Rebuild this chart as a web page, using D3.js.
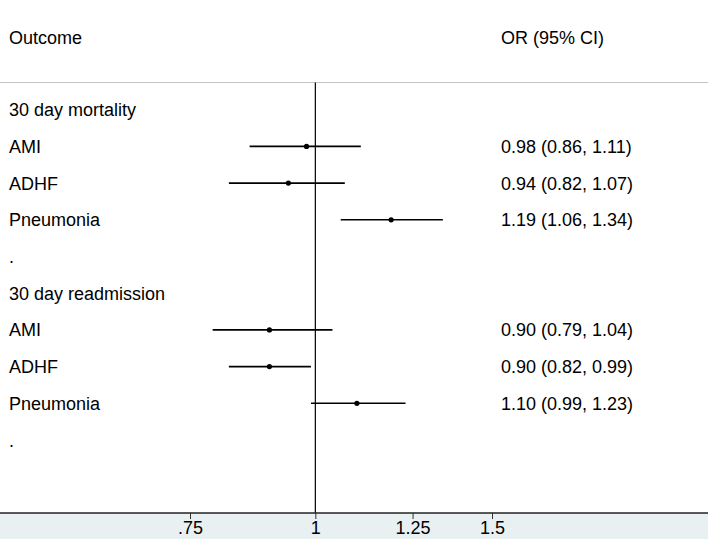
<!DOCTYPE html>
<html>
<head>
<meta charset="utf-8">
<script src="https://cdn.jsdelivr.net/npm/d3@7"></script>
<style>
  html, body { margin: 0; padding: 0; background: #fff; }
  svg { display: block; }
  text { font-family: "Liberation Sans", Arial, sans-serif; font-size: 18px; fill: #000; }
</style>
</head>
<body>
<script>
const labels = ["30 day mortality", "AMI", "ADHF", "Pneumonia", ".", "30 day readmission", "AMI", "ADHF", "Pneumonia", "."];
const estimates = [null, 0.98, 0.94, 1.19, null, null, 0.90, 0.90, 1.10, null];
const lower = [null, 0.86, 0.82, 1.06, null, null, 0.79, 0.82, 0.99, null];
const upper = [null, 1.11, 1.07, 1.34, null, null, 1.04, 0.99, 1.23, null];
const tickValues = [0.75, 1, 1.25, 1.5];
const tickLabels = [".75", "1", "1.25", "1.5"];

const W = 708, H = 539;
const svg = d3.select("body").append("svg").attr("width", W).attr("height", H);

const x = d3.scaleLog().domain([0.75, 1.5]).range([190, 492]);
const y = d3.scalePoint().domain(d3.range(labels.length)).range([109.7, 440]);
const axisY = 513;

// bottom background
svg.append("rect").attr("x", 0).attr("y", axisY).attr("width", W).attr("height", H - axisY).attr("fill", "#e9f0f2");

// header
svg.append("text").attr("x", 9).attr("y", 43.5).text("Outcome");
svg.append("text").attr("x", 501).attr("y", 43.5).text("OR (95% CI)");
svg.append("line").attr("x1", 0).attr("x2", W).attr("y1", 82.5).attr("y2", 82.5)
  .attr("stroke", "#c4c4c4").attr("stroke-width", 1.2);

// null line
svg.append("line").attr("x1", x(1)).attr("x2", x(1)).attr("y1", 82.5).attr("y2", axisY)
  .attr("stroke", "#000").attr("stroke-width", 1.2);

const rows = labels.map((l, i) => ({ label: l, est: estimates[i], lo: lower[i], hi: upper[i], i }));

// labels
svg.selectAll("text.lab").data(rows).join("text").attr("class", "lab")
  .attr("x", 9).attr("y", d => y(d.i) + 6.5).text(d => d.label);

const est = rows.filter(d => d.est != null);
svg.selectAll("line.ci").data(est).join("line").attr("class", "ci")
  .attr("x1", d => x(d.lo)).attr("x2", d => x(d.hi))
  .attr("y1", d => y(d.i)).attr("y2", d => y(d.i))
  .attr("stroke", "#000").attr("stroke-width", 1.6);
svg.selectAll("circle.pt").data(est).join("circle").attr("class", "pt")
  .attr("cx", d => x(d.est)).attr("cy", d => y(d.i)).attr("r", 2.6).attr("fill", "#000");
svg.selectAll("text.ortxt").data(est).join("text").attr("class", "ortxt")
  .attr("x", 501).attr("y", d => y(d.i) + 6.5)
  .text(d => `${d.est.toFixed(2)} (${d.lo.toFixed(2)}, ${d.hi.toFixed(2)})`);

// axis
const axis = d3.axisBottom(x).tickValues(tickValues)
  .tickFormat((d, i) => tickLabels[i]).tickSize(6).tickPadding(2);
const g = svg.append("g").attr("transform", `translate(0,${axisY})`).call(axis);
g.select(".domain").remove();
g.selectAll(".tick line").attr("stroke", "#333").attr("stroke-width", 1);
g.selectAll(".tick text").style("font-size", "18px").style("font-family", "'Liberation Sans', Arial, sans-serif").attr("fill", "#000");
svg.append("line").attr("x1", 0).attr("x2", W).attr("y1", axisY).attr("y2", axisY)
  .attr("stroke", "#222").attr("stroke-width", 1.4);
</script>
</body>
</html>
